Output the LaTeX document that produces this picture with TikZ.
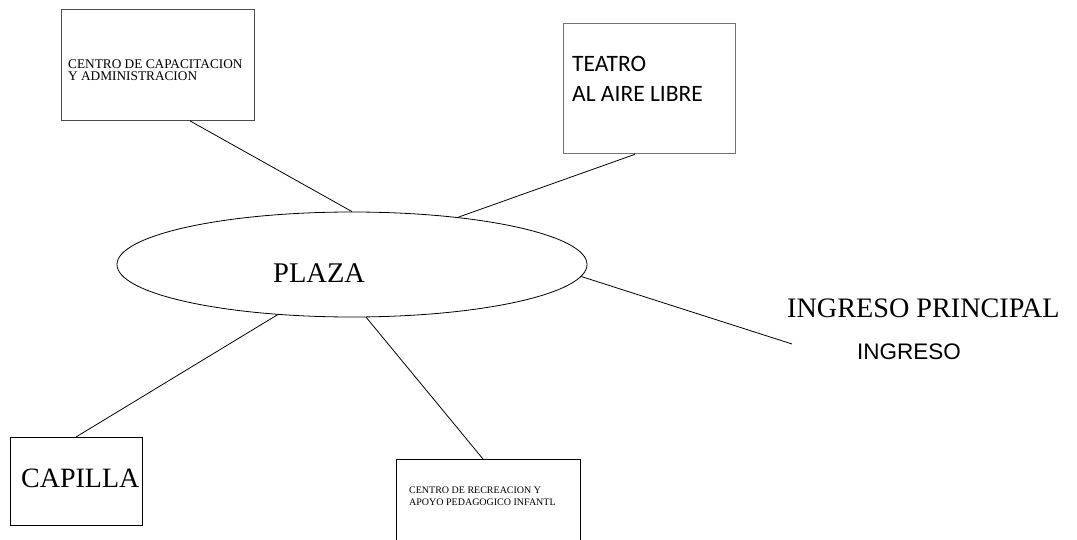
\documentclass[tikz,border=0pt]{standalone}
\usepackage{fontspec}
\setmainfont{Liberation Serif}
\newfontfamily\calibrifont{Carlito}
\newfontfamily\arialfont{Liberation Sans}
\usetikzlibrary{shapes.geometric}
\tikzset{
  boxa/.style={draw=black!70, line width=0.9pt, rectangle, inner sep=0pt, anchor=north west},
  boxb/.style={draw=black!55, line width=1.3pt, rectangle, inner sep=0pt, anchor=north west},
  boxc/.style={draw=black, line width=0.8pt, rectangle, inner sep=0pt, anchor=north west},
  txt/.style={inner sep=0pt, anchor=base west},
  conn/.style={draw=black, line width=0.8pt},
}
\begin{document}
\begin{tikzpicture}[x=1pt,y=-1pt]
\useasboundingbox[fill=white] (0,0) rectangle (1077,540);
% ellipse
\node[ellipse, draw=black, line width=0.8pt, inner sep=0pt, minimum width=470pt, minimum height=105pt] (plaza) at (352,264.5) {};
\node[txt, font=\fontsize{28.5}{30}\selectfont] (plazatxt) at (273,283) {PLAZA};
% box 1
\node[boxa, minimum width=193pt, minimum height=111pt] (box1) at (61,9) {};
\node[txt, font=\fontsize{13.3}{14}\selectfont] (t1a) at (68,68.5) {CENTRO DE CAPACITACION};
\node[txt, font=\fontsize{13.3}{14}\selectfont] (t1b) at (68,80.5) {Y ADMINISTRACION};
% teatro
\node[boxb, minimum width=172pt, minimum height=130pt] (box2) at (563,23) {};
\node[txt, font=\calibrifont\fontsize{23.5}{26}\selectfont] (t2a) at (572,72) {TEATRO};
\node[txt, font=\calibrifont\fontsize{23.5}{26}\selectfont] (t2b) at (572,102) {AL AIRE LIBRE};
% capilla
\node[boxc, minimum width=132pt, minimum height=88pt] (box3) at (10,437) {};
\node[txt, font=\fontsize{28}{30}\selectfont] (t3) at (21,487) {CAPILLA};
% recreacion
\node[boxc, minimum width=184pt, minimum height=110pt] (box4) at (396,459) {};
\node[txt, font=\fontsize{10}{11}\selectfont] (t4a) at (409,493.5) {CENTRO DE RECREACION Y};
\node[txt, font=\fontsize{10}{11}\selectfont] (t4b) at (409,505.5) {APOYO PEDAGOGICO INFANTL};
% ingreso
\node[txt, font=\fontsize{28.2}{30}\selectfont] (t5) at (787,317) {INGRESO PRINCIPAL};
\node[txt, font=\arialfont\fontsize{22.5}{24}\selectfont] (t6) at (857,359) {INGRESO};
\coordinate (ingend) at (792,344);
% connectors
\draw[conn] ([xshift=129pt]box1.south west) -- (plaza.90);
\draw[conn] ([xshift=72pt]box2.south west) -- (plaza.24);
\draw[conn] (plaza.-3) -- (ingend);
\draw[conn] ([xshift=66pt]box3.north west) -- (plaza.214);
\draw[conn] (plaza.-75) -- ([xshift=87pt]box4.north west);
\end{tikzpicture}
\end{document}
